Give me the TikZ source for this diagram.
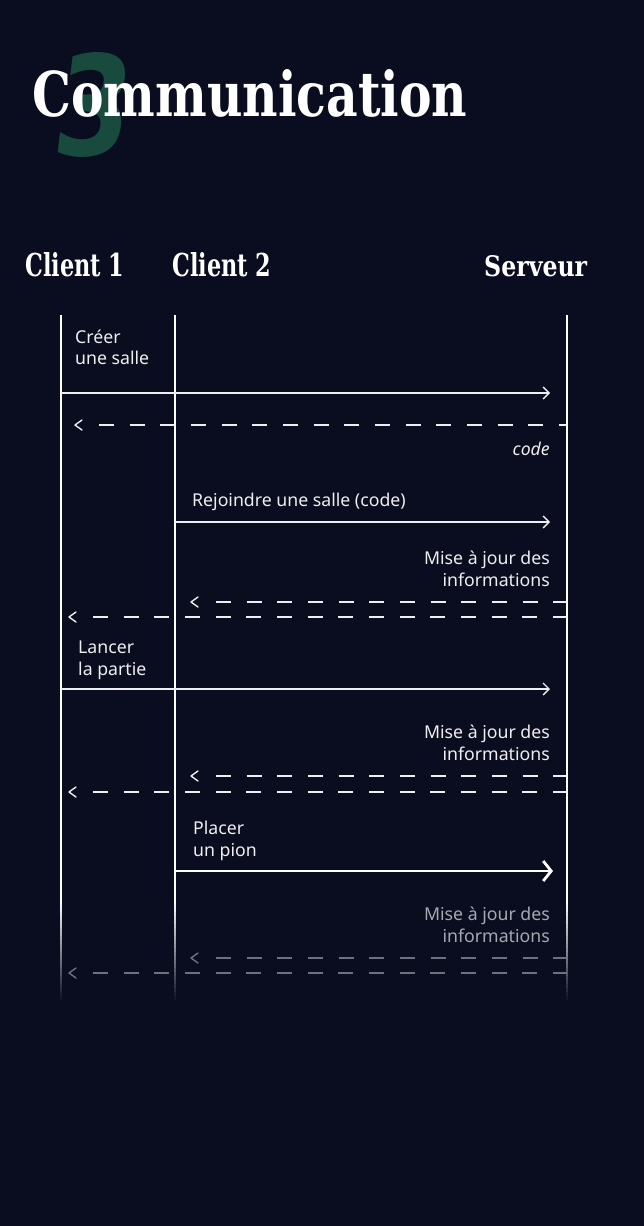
\documentclass[tikz,border=0pt]{standalone}
\usepackage{fontspec}
\setmainfont{Noto Sans}
\newfontfamily\slabfont{DejaVu Serif}
\newfontfamily\digitfont{DejaVu Sans}
\usetikzlibrary{arrows.meta}
\definecolor{bg}{HTML}{0A0D1F}
\definecolor{ink}{HTML}{EEEEEE}
\definecolor{dim}{HTML}{A6A8B0}
\definecolor{dimline}{HTML}{6E717C}
\definecolor{three}{HTML}{184A3E}
\tikzset{
  hdr/.style={anchor=base west, inner sep=0pt, text=white},
  lbl/.style={inner sep=0pt, text=ink, font=\fontsize{17.7}{22}\selectfont},
  lifeline/.style={draw=white, line width=2.5pt},
  msg/.style={draw=ink, line width=1.3pt, -{Straight Barb[length=6pt,width=12pt]}},
  bigmsg/.style={draw=white, line width=2.8pt, -{Straight Barb[length=8pt,width=20pt]}},
  retline/.style={draw=ink, line width=1.3pt, dash pattern=on 15pt off 15.67pt},
  chev/.style={draw=ink, line width=1.4pt, line cap=round, line join=round},
  faded/.style={draw=dimline},
}
\begin{document}
\begin{tikzpicture}[x=1pt,y=-1pt]
\fill[bg] (0,0) rectangle (644,1226);
\useasboundingbox (0,0) rectangle (644,1226);

% title
\node[anchor=base west, inner sep=0pt, text=three, xslant=0.12] (three) at (50,155)
  {\resizebox{76pt}{103pt}{\digitfont\bfseries 3}};
\node[anchor=base west, inner sep=0pt, text=white] (title) at (32,116)
  {\resizebox{435pt}{47pt}{\slabfont\bfseries Communication}};

% headers
\node[hdr] (h1) at (25,276) {\resizebox{99pt}{24pt}{\slabfont\bfseries Client 1}};
\node[hdr] (h2) at (172,276) {\resizebox{99pt}{24pt}{\slabfont\bfseries Client 2}};
\node[hdr] (h3) at (484,276) {\resizebox{103pt}{21pt}{\slabfont\bfseries Serveur}};

% lifelines with fading end
\foreach \n/\x in {c1/61, c2/175, sv/567}{
  \coordinate (\n top) at (\x,315);
  \coordinate (\n mid) at (\x,900);
  \draw[lifeline] (\n top) -- (\n mid);
  \foreach \i in {0,...,24}{
    \pgfmathsetmacro{\pct}{100-4*\i}
    \draw[lifeline, draw=white!\pct!bg] (\x,900+4*\i-0.2) -- (\x,904+4*\i);
  }
}

% 1. Creer une salle
\node[lbl, anchor=base west] (t1a) at (75,343) {Créer};
\node[lbl, anchor=base west] (t1b) at (75,364) {une salle};
\coordinate (m1s) at (61,393); \coordinate (m1e) at (550,393);
\draw[msg] (m1s) -- (m1e);

% 2. code
\coordinate (r1s) at (567,425); \coordinate (r1d) at (99,425); \coordinate (r1t) at (75,425);
\draw[retline] (r1d) -- (r1s);
\draw[chev] ([shift={(7,-5)}]r1t) -- (r1t) -- ([shift={(7,5)}]r1t);
\node[lbl, anchor=base east] (t2) at (550,455) {\itshape code};

% 3. Rejoindre
\node[lbl, anchor=base west] (t3) at (192,506) {Rejoindre une salle (code)};
\coordinate (m2s) at (175,522); \coordinate (m2e) at (550,522);
\draw[msg] (m2s) -- (m2e);

% 4. Mise a jour
\node[lbl, anchor=base east] (t4a) at (550,564) {Mise à jour des};
\node[lbl, anchor=base east] (t4b) at (550,586) {informations};
\coordinate (r2s) at (567,602); \coordinate (r2d) at (216,602); \coordinate (r2t) at (191,602);
\draw[retline] (r2d) -- (r2s);
\draw[chev] ([shift={(7,-5)}]r2t) -- (r2t) -- ([shift={(7,5)}]r2t);
\coordinate (r3s) at (567,617); \coordinate (r3d) at (93,617); \coordinate (r3t) at (69,617);
\draw[retline] (r3d) -- (r3s);
\draw[chev] ([shift={(7,-5)}]r3t) -- (r3t) -- ([shift={(7,5)}]r3t);

% 5. Lancer la partie
\node[lbl, anchor=base west] (t5a) at (78,653) {Lancer};
\node[lbl, anchor=base west] (t5b) at (78,675) {la partie};
\coordinate (m3s) at (61,689); \coordinate (m3e) at (550,689);
\draw[msg] (m3s) -- (m3e);

% 6. Mise a jour
\node[lbl, anchor=base east] (t6a) at (550,738) {Mise à jour des};
\node[lbl, anchor=base east] (t6b) at (550,760) {informations};
\coordinate (r4s) at (567,776); \coordinate (r4d) at (216,776); \coordinate (r4t) at (191,776);
\draw[retline] (r4d) -- (r4s);
\draw[chev] ([shift={(7,-5)}]r4t) -- (r4t) -- ([shift={(7,5)}]r4t);
\coordinate (r5s) at (567,792); \coordinate (r5d) at (93,792); \coordinate (r5t) at (69,792);
\draw[retline] (r5d) -- (r5s);
\draw[chev] ([shift={(7,-5)}]r5t) -- (r5t) -- ([shift={(7,5)}]r5t);

% 7. Placer un pion
\node[lbl, anchor=base west] (t7a) at (193,834) {Placer};
\node[lbl, anchor=base west] (t7b) at (193,856) {un pion};
\coordinate (m4s) at (175,871); \coordinate (m4e) at (553,871);
\draw[bigmsg] (m4s) -- (m4e);

% 8. Mise a jour (faded)
\node[lbl, text=dim, anchor=base east] (t8a) at (550,920) {Mise à jour des};
\node[lbl, text=dim, anchor=base east] (t8b) at (550,942) {informations};
\coordinate (r6s) at (567,958); \coordinate (r6d) at (216,958); \coordinate (r6t) at (191,958);
\draw[retline, faded] (r6d) -- (r6s);
\draw[chev, faded] ([shift={(7,-5)}]r6t) -- (r6t) -- ([shift={(7,5)}]r6t);
\coordinate (r7s) at (567,973); \coordinate (r7d) at (93,973); \coordinate (r7t) at (69,973);
\draw[retline, faded] (r7d) -- (r7s);
\draw[chev, faded] ([shift={(7,-5)}]r7t) -- (r7t) -- ([shift={(7,5)}]r7t);
\end{tikzpicture}
\end{document}
